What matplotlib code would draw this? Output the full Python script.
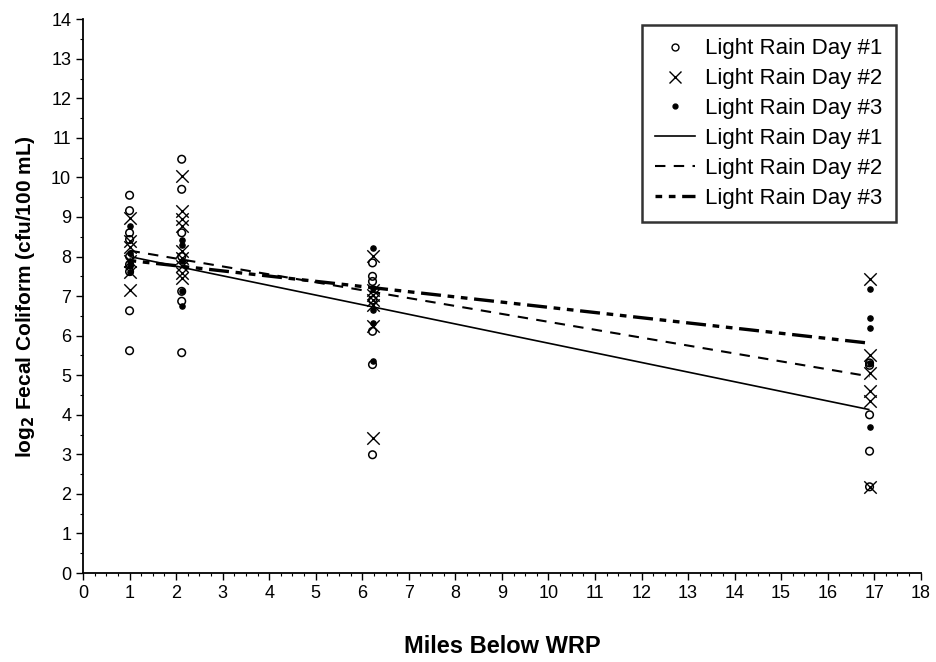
import matplotlib
matplotlib.use("Agg")
import matplotlib.pyplot as plt
from matplotlib.lines import Line2D
from matplotlib.ticker import MultipleLocator

plt.rcParams['font.family'] = ['Liberation Sans', 'DejaVu Sans']

# ---- data ----
sites = [1.0, 2.12, 6.22, 16.9]

day1_x = [1.0]*9 + [2.12]*7 + [6.22]*7 + [16.9]*5
day1_y = [9.55, 9.16, 8.6, 8.43, 8.0, 7.8, 7.62, 6.63, 5.62,
          10.46, 9.70, 8.6, 8.0, 7.12, 6.87, 5.57,
          7.84, 7.50, 7.37, 6.9, 6.11, 5.27, 2.99,
          5.31, 5.25, 4.0, 3.08, 2.18]

day2_x = [1.0]*6 + [2.12]*9 + [6.22]*7 + [16.9]*6
day2_y = [8.98, 8.4, 8.25, 7.9, 7.62, 7.16,
          10.03, 9.15, 8.94, 8.77, 8.13, 7.97, 7.75, 7.59, 7.47,
          8.01, 7.16, 7.04, 6.91, 6.78, 6.24, 3.41,
          7.42, 5.52, 5.06, 4.59, 4.34, 2.18]

day3_x = [1.0]*5 + [2.12]*5 + [6.22]*5 + [16.9]*5
day3_y = [8.78, 8.1, 7.9, 7.75, 7.6,
          8.43, 8.3, 7.9, 7.12, 6.74,
          8.22, 7.2, 6.66, 6.32, 5.35,
          7.18, 6.45, 6.19, 5.31, 3.70]

fit_x = [1.0, 16.9]
fit1_y = [8.0, 4.13]
fit2_y = [8.15, 4.97]
fit3_y = [7.9, 5.81]

labels = ['Light Rain Day #1', 'Light Rain Day #2', 'Light Rain Day #3']

fig = plt.figure(figsize=(9.36, 6.62), dpi=100)
ax = fig.add_axes([0.0887, 0.1344, 0.895, 0.8366])

ax.scatter(day1_x, day1_y, s=30, facecolors='none', edgecolors='black', linewidths=1.1, zorder=3)
ax.scatter(day2_x, day2_y, s=80, marker='x', color='black', linewidths=1.0, zorder=3)
ax.scatter(day3_x, day3_y, s=14, marker='o', color='black', zorder=3)

ax.plot(fit_x, fit1_y, color='black', lw=1.2, solid_capstyle='butt')
ax.plot(fit_x, fit2_y, color='black', lw=1.5, dashes=(5, 4))
ax.plot(fit_x, fit3_y, color='black', lw=2.4, dashes=(2, 2, 2, 2, 6, 2))

ax.set_xlim(0, 18)
ax.set_ylim(0, 14)
ax.xaxis.set_major_locator(MultipleLocator(1))
ax.yaxis.set_major_locator(MultipleLocator(1))
ax.xaxis.set_minor_locator(MultipleLocator(0.25))
ax.yaxis.set_minor_locator(MultipleLocator(0.5))
for s in ['top', 'right']:
    ax.spines[s].set_visible(False)
for s in ['left', 'bottom']:
    ax.spines[s].set_linewidth(1.3)
ax.tick_params(which='major', direction='out', length=5, width=1, labelsize=13)
ax.tick_params(which='minor', direction='out', length=2.5, width=0.8)

ax.set_xlabel('Miles Below WRP', fontsize=17, fontweight='bold', labelpad=24)
ax.set_ylabel(r'log$_\mathbf{2}$ Fecal Coliform (cfu/100 mL)', fontsize=15, fontweight='bold', labelpad=10)

handles = [
    Line2D([], [], ls='none', marker='o', mfc='none', mec='black', ms=5),
    Line2D([], [], ls='none', marker='x', color='black', ms=8),
    Line2D([], [], ls='none', marker='o', color='black', ms=3.5),
    Line2D([], [], color='black', lw=1.2),
    Line2D([], [], color='black', lw=1.5, dashes=(5, 4)),
    Line2D([], [], color='black', lw=2.4, dashes=(2, 2, 2, 2, 6, 2)),
]
leg = ax.legend(handles, labels + labels, loc='upper right',
                bbox_to_anchor=(907 / 936, 1 - 14 / 662), bbox_transform=fig.transFigure,
                fontsize=16, frameon=True, fancybox=False, edgecolor='black',
                handlelength=1.8, labelspacing=0.4, borderpad=0.6, handletextpad=0.45)
leg.get_frame().set_linewidth(1.8)

fig.savefig('out.png', dpi=100)
